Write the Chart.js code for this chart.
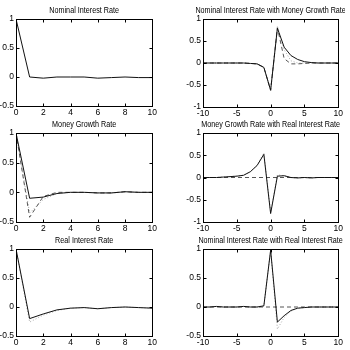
<!DOCTYPE html>
<html>
<head>
<meta charset="utf-8">
<script src="https://cdn.jsdelivr.net/npm/chart.js@4.4.1/dist/chart.umd.min.js"></script>
<style>
  html, body { margin: 0; padding: 0; background: #fff; }
  .panel { position: absolute; }
</style>
</head>
<body>
<div id="wrap"></div>
<script>
// lags on the horizontal axes
var lagsShort = [0, 1, 2, 3, 4, 5, 6, 7, 8, 9, 10];
var lagsLong = [-10, -9, -8, -7, -6, -5, -4, -3, -2, -1, 0, 1, 2, 3, 4, 5, 6, 7, 8, 9, 10];

// autocorrelations
var nominalSolid = [1, 0.0, -0.02, 0.0, 0.0, 0.0, -0.02, -0.01, 0.0, -0.01, -0.01];
var moneySolid = [1, -0.1, -0.08, -0.02, 0.0, 0.0, -0.01, -0.01, 0.01, 0.0, 0.0];
var moneyDashed = [1, -0.42, -0.07, 0.0, 0.0, 0.0, -0.01, -0.01, 0.01, 0.0, 0.0];
var moneyDotted = [1, -0.35, -0.12, -0.02, 0.0, 0.0, -0.01, -0.01, 0.01, 0.0, 0.0];
var realSolid = [1, -0.2, -0.12, -0.05, -0.02, -0.01, -0.03, -0.01, 0.0, -0.01, -0.02];
var realDotted = [1, -0.26, -0.14, -0.06, -0.02, -0.01, -0.03, -0.01, 0.0, -0.01, -0.02];

// cross-correlations
var nomMoneySolid = [0, 0, 0, 0, 0, 0, 0, -0.01, -0.02, -0.1, -0.62, 0.79, 0.36, 0.17, 0.08, 0.03, 0.01, 0.0, 0.0, 0.0, 0.0];
var nomMoneyDashed = [0, 0, 0, 0, 0, 0, 0, -0.01, -0.02, -0.1, -0.62, 0.8, 0.1, -0.02, -0.02, -0.01, 0.0, 0.0, 0.0, 0.0, 0.0];
var nomMoneyDotted = [0, 0, 0, 0, 0, 0, 0, -0.01, -0.02, -0.1, -0.6, 0.84, 0.3, 0.05, 0.0, 0.0, 0.0, 0.0, 0.0, 0.0, 0.0];
var moneyRealSolid = [0, 0, 0, 0.01, 0.02, 0.03, 0.05, 0.13, 0.27, 0.52, -0.81, 0.03, 0.04, 0.0, -0.01, 0.0, -0.01, 0.0, 0.0, 0.0, 0.0];
var moneyRealDashed = [0, 0, 0, 0, 0, 0, 0, 0, 0, 0, 0, 0, 0, 0, 0, 0, 0, 0, 0, 0, 0];
var moneyRealDotted = [0, 0, 0, 0.01, 0.02, 0.03, 0.05, 0.13, 0.28, 0.55, -0.78, 0.06, 0.04, 0.0, -0.01, 0.0, -0.01, 0.0, 0.0, 0.0, 0.0];
var nomRealSolid = [0, 0, 0.01, 0, 0, 0, 0.01, 0, 0, 0.02, 0.98, -0.26, -0.15, -0.06, -0.02, -0.01, 0.0, 0.0, 0.0, 0.0, 0.0];
var nomRealDashed = [0, 0, 0, 0, 0, 0, 0, 0, 0, 0, 0, 0, 0, 0, 0, 0, 0, 0, 0, 0, 0];
var nomRealDotted = [0, 0, 0.01, 0, 0, 0, 0.01, 0, 0, 0.02, 0.98, -0.38, -0.18, -0.07, -0.02, -0.01, 0.0, 0.0, 0.0, 0.0, 0.0];

var fontFamily = "'Liberation Sans', Arial, sans-serif";

function pts(xs, ys) {
    return xs.map(function (x, i) { return { x: x, y: ys[i] }; });
}

function solid(xs, ys) {
    return { data: pts(xs, ys), borderColor: "#111", borderWidth: 1, pointRadius: 0, order: 0 };
}
function dashed(xs, ys) {
    return { data: pts(xs, ys), borderColor: "#555", borderWidth: 1, borderDash: [4, 3], pointRadius: 0, order: 1 };
}
function dotted(xs, ys) {
    return { data: pts(xs, ys), borderColor: "#aaa", borderWidth: 1, borderDash: [1, 2], pointRadius: 0, order: 2 };
}

// box, inward ticks and condensed title, matlab style
var matlabBox = {
    id: "matlabBox",
    afterDraw: function (chart) {
        var a = chart.chartArea, ctx = chart.ctx;
        var xs = chart.scales.x, ys = chart.scales.y;
        var l = Math.round(a.left) + 0.5, t = Math.round(a.top) + 0.5;
        var r = Math.round(a.right) + 0.5, b = Math.round(a.bottom) + 0.5;
        ctx.save();
        ctx.strokeStyle = "#000";
        ctx.lineWidth = 1;
        ctx.strokeRect(l, t, r - l, b - t);
        ctx.beginPath();
        xs.ticks.forEach(function (tk) {
            var px = Math.round(xs.getPixelForValue(tk.value)) + 0.5;
            ctx.moveTo(px, b); ctx.lineTo(px, b - 3);
            ctx.moveTo(px, t); ctx.lineTo(px, t + 3);
        });
        ys.ticks.forEach(function (tk) {
            var py = Math.round(ys.getPixelForValue(tk.value)) + 0.5;
            ctx.moveTo(l, py); ctx.lineTo(l + 3, py);
            ctx.moveTo(r, py); ctx.lineTo(r - 3, py);
        });
        ctx.stroke();

        // title, squeezed horizontally like the original narrow font
        ctx.fillStyle = "#000";
        ctx.font = "9px " + fontFamily;
        ctx.textAlign = "center";
        ctx.translate((a.left + a.right) / 2, a.top - 6);
        ctx.scale(0.8, 1);
        ctx.fillText(chart.config.options.boxTitle, 0, 0);
        ctx.restore();
    }
};

var panels = [
    { title: "Nominal Interest Rate", L: 16, T: 19, R: 153, B: 106, yW: 16, x: [0, 10, 2], y: [-0.5, 1],
      sets: [solid(lagsShort, nominalSolid)] },
    { title: "Nominal Interest Rate with Money Growth Rate", L: 203, T: 19, R: 339, B: 107, yW: 28, x: [-10, 10, 5], y: [-1, 1],
      sets: [solid(lagsLong, nomMoneySolid), dashed(lagsLong, nomMoneyDashed), dotted(lagsLong, nomMoneyDotted)] },
    { title: "Money Growth Rate", L: 16, T: 133, R: 153, B: 222, yW: 16, x: [0, 10, 2], y: [-0.5, 1],
      sets: [solid(lagsShort, moneySolid), dashed(lagsShort, moneyDashed), dotted(lagsShort, moneyDotted)] },
    { title: "Money Growth Rate with Real Interest Rate", L: 203, T: 133, R: 339, B: 222, yW: 28, x: [-10, 10, 5], y: [-1, 1],
      sets: [solid(lagsLong, moneyRealSolid), dashed(lagsLong, moneyRealDashed), dotted(lagsLong, moneyRealDotted)] },
    { title: "Real Interest Rate", L: 16, T: 249, R: 153, B: 336, yW: 16, x: [0, 10, 2], y: [-0.5, 1],
      sets: [solid(lagsShort, realSolid), dotted(lagsShort, realDotted)] },
    { title: "Nominal Interest Rate with Real Interest Rate", L: 203, T: 249, R: 339, B: 336, yW: 28, x: [-10, 10, 5], y: [-0.5, 1],
      sets: [solid(lagsLong, nomRealSolid), dashed(lagsLong, nomRealDashed), dotted(lagsLong, nomRealDotted)] }
];

var titleH = 19, xH = 14, padR = 6;
var wrap = document.getElementById("wrap");

panels.forEach(function (p) {
    var div = document.createElement("div");
    div.className = "panel";
    div.style.left = (p.L - p.yW) + "px";
    div.style.top = (p.T - titleH) + "px";
    div.style.width = (p.R - p.L + p.yW + padR) + "px";
    div.style.height = (p.B - p.T + titleH + xH) + "px";
    var cv = document.createElement("canvas");
    div.appendChild(cv);
    wrap.appendChild(div);

    new Chart(cv, {
        type: "line",
        data: { datasets: p.sets },
        options: {
            boxTitle: p.title,
            responsive: true,
            maintainAspectRatio: false,
            animation: false,
            layout: { padding: { top: titleH, right: padR, bottom: 0, left: 0 } },
            plugins: {
                legend: { display: false },
                tooltip: { enabled: false },
                title: { display: false }
            },
            scales: {
                x: {
                    type: "linear",
                    min: p.x[0], max: p.x[1],
                    grid: { display: false, drawTicks: false },
                    border: { display: false },
                    ticks: { stepSize: p.x[2], color: "#000", padding: 2, maxRotation: 0,
                             font: { family: fontFamily, size: 8.5 } },
                    afterFit: function (s) { s.height = xH; }
                },
                y: {
                    min: p.y[0], max: p.y[1],
                    grid: { display: false, drawTicks: false },
                    border: { display: false },
                    ticks: { stepSize: 0.5, color: "#000", padding: 2,
                             font: { family: fontFamily, size: 8.5 },
                             callback: function (v) { return String(Math.round(v * 10) / 10); } },
                    afterFit: function (s) { s.width = p.yW; }
                }
            }
        },
        plugins: [matlabBox]
    });
});
</script>
</body>
</html>
